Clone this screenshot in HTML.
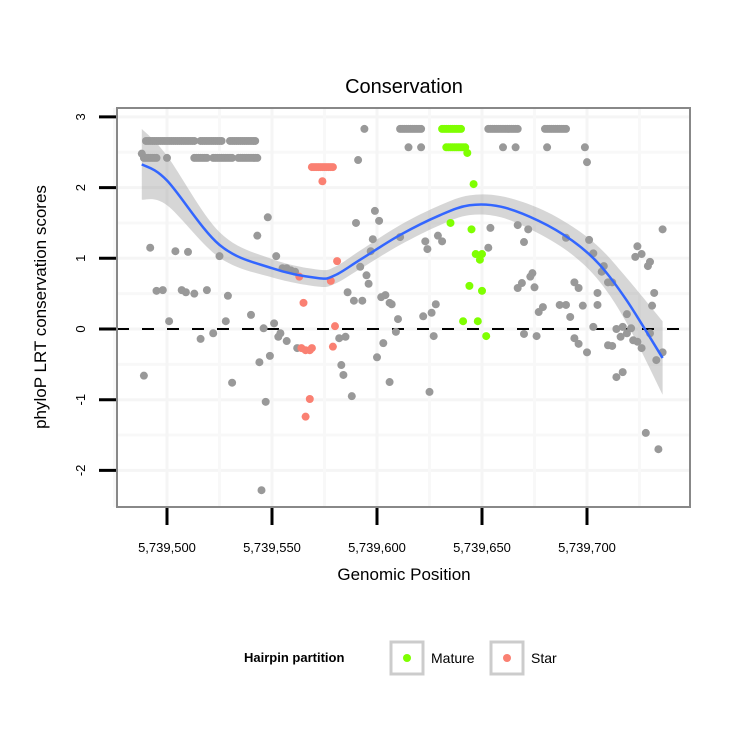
<!DOCTYPE html>
<html><head><meta charset="utf-8"><style>
html,body{margin:0;padding:0;background:#fff;}
svg{display:block;font-family:"Liberation Sans",sans-serif;}
</style></head><body>
<svg id="chart" width="750" height="750" viewBox="0 0 750 750">
<rect x="0" y="0" width="750" height="750" fill="#fff"/>
<text x="404" y="93" font-size="20" text-anchor="middle">Conservation</text>
<text transform="translate(46,307) rotate(-90)" font-size="17" text-anchor="middle">phyloP LRT conservation scores</text>
<text x="404" y="580" font-size="17" text-anchor="middle">Genomic Position</text>
<g id="grid"></g>
<g id="band-layer"></g>
<g id="points"></g>
<g id="axes"></g>
<g>
 <text x="244" y="662" font-size="13" font-weight="bold">Hairpin partition</text>
 <g>
  <rect x="391" y="642" width="32" height="32" fill="#fff" stroke="#cccccc" stroke-width="3"/>
  <circle cx="407" cy="658" r="4" fill="#7fff00"/>
  <text x="431" y="663" font-size="14">Mature</text>
 </g>
 <g>
  <rect x="491" y="642" width="32" height="32" fill="#fff" stroke="#cccccc" stroke-width="3"/>
  <circle cx="507" cy="658" r="4" fill="#fa8072"/>
  <text x="531" y="663" font-size="14">Star</text>
 </g>
</g>
</svg>
<script>
const BASE = 5739500;
const xTicks = [5739500, 5739550, 5739600, 5739650, 5739700];
const xTickLabels = ["5,739,500","5,739,550","5,739,600","5,739,650","5,739,700"];
const yTicks = [3,2,1,0,-1,-2];
const yTickLabels = ["3","2","1","0","-1","-2"];

// gray (other) points: offsets from BASE and scores
const grayPos = [-10,-9,-8,-7,-6,-5,-4,-3,-2,-1,0,1,2,3,4,5,6,7,8,9,10,11,12,13,
 16,17,18,19,20,21,22,23,24,25,26, 30,31,32,33,34,35,36,37,38,39,40,41,42,
 -11,-10,-9,-8,-7,-6,-5, 0, 13,14,15,16,17,18,19, 22,23,24,25,26,27,28,29,30,31, 34,35,36,37,38,39,40,41,42,43,
 94, 111,112,113,114,115,116,117,118,119,120,121, 153,154,155,156,157,158,159,160,161,162,163,164,165,166,167,
 180,181,182,183,184,185,186,187,188,189,190, 115,121,160,166,181,199,
 -12,-11,-8,-5,-2,1,4,7,9,10,13,16,19,22,25,28,29,31,40,43,45,46,47,48,44,49,51,52,54,53,57,62,55,57,59,61,
 82,85,83,84,88,86,89,93,91,90,92,95,96,97,98,99,101,100,103,102,104,106,107,106,110,109,111,123,124,129,131,128,126,122,127,125,
 154,153,167,172,170,190,201,203,200,224,226,223,230,229,236,208,207,210,212,174,173,169,167,175,194,196,205,232,187,190,198,205,179,231,177,192,219,
 170,176,194,196,200,203,210,212,214,217,216,219,221,222,224,226,230,236,233,214,217,228,234];
const grayScore = [2.66,2.66,2.66,2.66,2.66,2.66,2.66,2.66,2.66,2.66,2.66,2.66,2.66,2.66,2.66,2.66,2.66,2.66,2.66,2.66,2.66,2.66,2.66,2.66,
 2.66,2.66,2.66,2.66,2.66,2.66,2.66,2.66,2.66,2.66,2.66, 2.66,2.66,2.66,2.66,2.66,2.66,2.66,2.66,2.66,2.66,2.66,2.66,2.66,
 2.42,2.42,2.42,2.42,2.42,2.42,2.42, 2.42, 2.42,2.42,2.42,2.42,2.42,2.42,2.42, 2.42,2.42,2.42,2.42,2.42,2.42,2.42,2.42,2.42,2.42, 2.42,2.42,2.42,2.42,2.42,2.42,2.42,2.42,2.42,2.42,
 2.83, 2.83,2.83,2.83,2.83,2.83,2.83,2.83,2.83,2.83,2.83,2.83, 2.83,2.83,2.83,2.83,2.83,2.83,2.83,2.83,2.83,2.83,2.83,2.83,2.83,2.83,2.83,
 2.83,2.83,2.83,2.83,2.83,2.83,2.83,2.83,2.83,2.83,2.83, 2.57,2.57,2.57,2.57,2.57,2.57,
 2.48,-0.66,1.15,0.54,0.55,0.11,1.10,0.55,0.52,1.09,0.50,-0.14,0.55,-0.06,1.03,0.11,0.47,-0.76,0.20,1.32,-2.28,0.01,-1.03,1.58,-0.47,-0.38,0.08,1.03,-0.06,-0.11,-0.17,-0.27,0.86,0.86,0.83,0.81,
 -0.13,-0.11,-0.51,-0.65,-0.95,0.52,0.40,0.40,2.39,1.50,0.88,0.76,0.64,1.10,1.27,1.67,1.53,-0.40,-0.20,0.45,0.48,0.37,0.35,-0.75,0.14,-0.04,1.30,1.24,1.13,1.32,1.24,0.35,0.23,0.18,-0.10,-0.89,
 1.43,1.15,1.47,1.41,1.23,1.29,1.26,1.07,2.36,1.17,1.06,1.02,0.95,0.89,1.41,0.89,0.81,0.66,0.66,0.79,0.74,0.65,0.58,0.59,0.66,0.58,0.51,0.51,0.34,0.34,0.33,0.34,0.31,0.33,0.24,0.17,0.21,
 -0.07,-0.10,-0.13,-0.21,-0.33,0.03,-0.23,-0.24,0.00,0.03,-0.11,-0.06,0.01,-0.16,-0.18,-0.27,-0.06,-0.33,-0.44,-0.68,-0.61,-1.47,-1.70];

const maturePos = [131,132,133,134,135,136,137,138,139,140, 133,134,135,136,137,138,139,140,141,142, 143,146,135,145,147,150,149,144,150,141,148,152];
const matureScore = [2.83,2.83,2.83,2.83,2.83,2.83,2.83,2.83,2.83,2.83, 2.57,2.57,2.57,2.57,2.57,2.57,2.57,2.57,2.57,2.57, 2.49,2.05,1.50,1.41,1.06,1.06,0.98,0.61,0.54,0.11,0.11,-0.10];

const starPos = [69,70,71,72,73,74,75,76,77,78,79, 74,81,78,63,65,80,79,64,66,68,69,68,66];
const starScore = [2.29,2.29,2.29,2.29,2.29,2.29,2.29,2.29,2.29,2.29,2.29, 2.09,0.96,0.68,0.74,0.37,0.04,-0.25,-0.27,-0.30,-0.30,-0.27,-0.99,-1.24];

// loess fit
const fitPos = [-12,0,25,50,72,80,92,111,130,144,159,177,193,206,219,236];
const fitScore = [2.33,2.1,1.19,0.86,0.72,0.76,0.98,1.33,1.61,1.75,1.73,1.53,1.25,0.91,0.40,-0.41];
const fitSE = [0.5,0.35,0.18,0.13,0.12,0.12,0.13,0.14,0.14,0.14,0.15,0.18,0.2,0.24,0.32,0.52];

const PL=117, PR=690, PT=108, PB=507;
function sx(p){ return 167 + (p - BASE) * 2.1; }
function sxo(o){ return sx(BASE + o); }
function sy(v){ return 329 - v * 70.7; }
const NS='http://www.w3.org/2000/svg';
function mk(tag, attrs, parent){ const e=document.createElementNS(NS,tag); for(const k in attrs) e.setAttribute(k,attrs[k]); parent.appendChild(e); return e; }

const grid=document.getElementById('grid');
mk('rect',{x:PL,y:PT,width:PR-PL,height:PB-PT,fill:'#fff'},grid);
for(const v of [2.5,1.5,0.5,-0.5,-1.5]){ const l=mk('line',{x1:PL,x2:PR,y1:sy(v),y2:sy(v),stroke:'#f8f8f8','stroke-width':3},grid);

 }
for(const v of yTicks){ const l=mk('line',{x1:PL,x2:PR,y1:sy(v),y2:sy(v),stroke:'#f5f5f5','stroke-width':3},grid);

 }
for(const v of [5739475,5739525,5739575,5739625,5739675,5739725]){ const l=mk('line',{x1:sx(v),x2:sx(v),y1:PT,y2:PB,stroke:'#f8f8f8','stroke-width':3},grid);

 }
for(const v of xTicks){ const l=mk('line',{x1:sx(v),x2:sx(v),y1:PT,y2:PB,stroke:'#f5f5f5','stroke-width':3},grid);

 }

function smoothPath(xs, ys){
  let d='M'+xs[0]+','+ys[0];
  for(let i=0;i<xs.length-1;i++){
    const x0=xs[Math.max(i-1,0)],y0=ys[Math.max(i-1,0)],x1=xs[i],y1=ys[i],x2=xs[i+1],y2=ys[i+1],x3=xs[Math.min(i+2,xs.length-1)],y3=ys[Math.min(i+2,xs.length-1)];
    d+=' C'+(x1+(x2-x0)/6)+','+(y1+(y2-y0)/6)+' '+(x2-(x3-x1)/6)+','+(y2-(y3-y1)/6)+' '+x2+','+y2;
  }
  return d;
}
const bl=document.getElementById('band-layer');
const fx=fitPos.map(sxo);
const up=fitScore.map((v,i)=>sy(v+fitSE[i]));
const lo=fitScore.map((v,i)=>sy(v-fitSE[i]));
const upD=smoothPath(fx,up);
const rfx=fx.slice().reverse(), rlo=lo.slice().reverse();
const loD=smoothPath(rfx,rlo).replace(/^M/,' L');
const band=mk('path',{d:upD+loD+' Z',fill:'#999','fill-opacity':0.4},bl);



const z=mk('line',{x1:PL,x2:PR,y1:sy(0),y2:sy(0),stroke:'#000','stroke-width':2,'stroke-dasharray':'12 13'},bl);



const pts=document.getElementById('points');
function drawSeries(pos,score,color,name){
  for(let i=0;i<pos.length;i++){
    const c=mk('circle',{cx:sxo(pos[i]),cy:sy(score[i]),r:4,fill:color},pts);
    
    
  }
}
drawSeries(grayPos,grayScore,'#999999','point-other');
drawSeries(maturePos,matureScore,'#7fff00','point-mature');
drawSeries(starPos,starScore,'#fa8072','point-star');

const fit=mk('path',{d:smoothPath(fx,fitScore.map(sy)),fill:'none',stroke:'#3366ff','stroke-width':2.5},pts);



const ax=document.getElementById('axes');
const border=mk('rect',{x:PL,y:PT,width:PR-PL,height:PB-PT,fill:'none',stroke:'#888','stroke-width':2},ax);


yTicks.forEach((v,i)=>{
  const t=mk('line',{x1:99,x2:116,y1:sy(v),y2:sy(v),stroke:'#000','stroke-width':3},ax);
  
  
  const tx=mk('text',{transform:'translate(85,'+sy(v)+') rotate(-90)','font-size':13,'text-anchor':'middle'},ax);
  tx.textContent=yTickLabels[i];
  
  
});
xTicks.forEach((v,i)=>{
  const t=mk('line',{x1:sx(v),x2:sx(v),y1:508,y2:525,stroke:'#000','stroke-width':3},ax);
  
  
  const tx=mk('text',{x:sx(v),y:552,'font-size':13,'text-anchor':'middle'},ax);
  tx.textContent=xTickLabels[i];
  
  
});
</script>
</body></html>
